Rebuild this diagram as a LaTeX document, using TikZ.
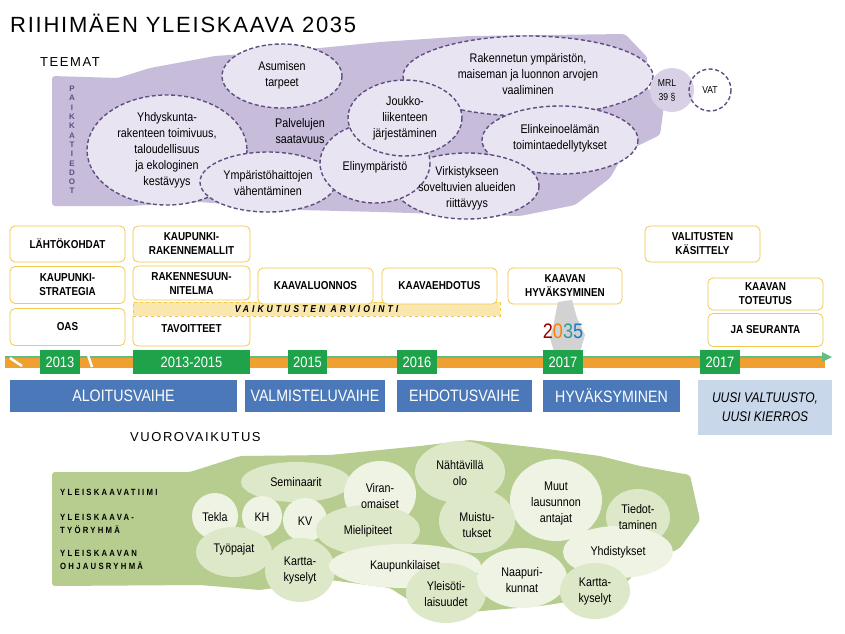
\documentclass[tikz,border=0pt]{standalone}
\usepackage{fontspec}
\setmainfont[FakeStretch=0.86]{Liberation Sans}
\newfontfamily\wide{Liberation Sans}
\begin{document}
\begin{tikzpicture}[x=1pt,y=-1pt,
  every node/.style={font=\fontsize{12.5}{16}\selectfont,align=center,inner sep=0pt},
  ybox/.style={draw=ybord,thick,fill=white,rounded corners=5pt,font=\fontsize{11.5}{14}\selectfont\bfseries},
  year/.style={fill=ygreen,text=white,font=\fontsize{15}{16}\selectfont},
  phase/.style={fill=pblue,text=white,font=\fontsize{16.5}{18}\selectfont},
  lab/.style={font=\fontsize{9}{13}\selectfont\bfseries\addfontfeatures{LetterSpace=25},anchor=west,align=left}]
\definecolor{lavlight}{HTML}{E9E4F1}
\definecolor{lavblob}{HTML}{C7BDDB}
\definecolor{ybord}{HTML}{F2C94C}
\definecolor{ygreen}{HTML}{1FA34A}
\definecolor{pblue}{HTML}{4A78B8}
\definecolor{orng}{HTML}{F0A030}
\definecolor{gblob}{HTML}{B7CD90}
\definecolor{gl}{HTML}{DDE8C8}
\definecolor{gll}{HTML}{EEF3E4}
\definecolor{dpur}{HTML}{5E4F80}
\useasboundingbox (0,0) rectangle (845,633);
\fill[white] (0,0) rectangle (845,633);
% title
\node[anchor=west,font=\wide\fontsize{22}{24}\selectfont\addfontfeatures{LetterSpace=8}] (title) at (10,23) {RIIHIMÄEN YLEISKAAVA 2035};
\node[anchor=west,font=\wide\fontsize{13}{15}\selectfont\addfontfeatures{LetterSpace=12}] (teemat) at (40,62) {TEEMAT};
% purple blob
\fill[lavblob,rounded corners=3pt] (52,76) -- (118,78) -- (150,68) -- (215,56) -- (300,50) -- (380,42) -- (470,36) -- (625,34) -- (648,58) -- (640,85) -- (665,98) -- (660,135) -- (625,152) -- (610,178) -- (575,205) -- (520,216) -- (440,214) -- (380,212) -- (300,210) -- (200,202) -- (130,206) -- (52,206) -- cycle;
\node[font=\wide\fontsize{8}{9.3}\selectfont\bfseries,text=dpur,align=center] (paik) at (72,140) {P\\A\\I\\K\\K\\A\\T\\I\\E\\D\\O\\T};
\tikzset{th/.style={draw=dpur,line width=1.4pt,dash pattern=on 4pt off 2.5pt,fill=lavlight}}
\draw[th] (528,76) ellipse [x radius=125,y radius=40];
\draw[th] (282,76) ellipse [x radius=60,y radius=32];
\draw[th] (167,150) ellipse [x radius=80,y radius=55];
\draw[th] (560,140) ellipse [x radius=78,y radius=34];
\draw[th] (467,186) ellipse [x radius=72,y radius=33];
\draw[th] (268,182) ellipse [x radius=68,y radius=30];
\draw[th] (375,163) ellipse [x radius=55,y radius=40];
\draw[th] (405,118) ellipse [x radius=57,y radius=38];
\node (t1) at (167,150) {Yhdyskunta-\\rakenteen toimivuus,\\taloudellisuus\\ja ekologinen\\kestävyys};
\node (t2) at (282,75) {Asumisen\\tarpeet};
\node (t3) at (300,131) {Palvelujen\\saatavuus};
\node (t4) at (528,74) {Rakennetun ympäristön,\\maiseman ja luonnon arvojen\\vaaliminen};
\node (t5) at (405,118) {Joukko-\\liikenteen\\järjestäminen};
\node (t6) at (560,138) {Elinkeinoelämän\\toimintaedellytykset};
\node (t7) at (268,183) {Ympäristöhaittojen\\vähentäminen};
\node (t8) at (375,167) {Elinympäristö};
\node (t9) at (467,188) {Virkistykseen\\soveltuvien alueiden\\riittävyys};
\fill[lavblob!70!white] (672,90) circle (22);
\node[font=\fontsize{10}{14}\selectfont] (mrl) at (667,90) {MRL\\39 §};
\draw[th,fill=none] (710,90) circle (21);
\node[font=\fontsize{10}{11}\selectfont] (vat) at (710,90) {VAT};
% boxes
\node[ybox,minimum width=115,minimum height=36] (b1) at (67.5,244) {LÄHTÖKOHDAT};
\node[ybox,minimum width=115,minimum height=37] (b2) at (67.5,285) {KAUPUNKI-\\STRATEGIA};
\node[ybox,minimum width=115,minimum height=37] (b3) at (67.5,327) {OAS};
\node[ybox,minimum width=117,minimum height=36] (b4) at (191.5,244) {KAUPUNKI-\\RAKENNEMALLIT};
\node[ybox,minimum width=117,minimum height=34] (b5) at (191.5,283) {RAKENNESUUN-\\NITELMA};
\node[ybox,minimum width=117,minimum height=34] (b6) at (191.5,329) {TAVOITTEET};
\node[draw=ybord,thick,dashed,fill=ybord!45,minimum width=367,minimum height=14,font=\fontsize{10}{11}\selectfont\bfseries\itshape\addfontfeatures{LetterSpace=30}] (va) at (316.5,309) {VAIKUTUSTEN ARVIOINTI};
\node[ybox,minimum width=115,minimum height=36] (b7) at (315.5,286) {KAAVALUONNOS};
\node[ybox,minimum width=115,minimum height=36] (b8) at (439.5,286) {KAAVAEHDOTUS};
\node[ybox,minimum width=114,minimum height=36] (b9) at (565,286) {KAAVAN\\HYVÄKSYMINEN};
\node[ybox,minimum width=115,minimum height=36] (b10) at (702.5,244) {VALITUSTEN\\KÄSITTELY};
\node[ybox,minimum width=115,minimum height=32] (b11) at (765.5,294) {KAAVAN\\TOTEUTUS};
\node[ybox,minimum width=115,minimum height=33] (b12) at (765.5,330) {JA SEURANTA};
% logo
\fill[gray!35] (558,302) -- (572,300) -- (577,318) -- (585,335) -- (580,352) -- (555,355) -- (550,338) -- (554,322) -- cycle;
\node[font=\fontsize{21}{21}\selectfont] (logo) at (563,331) {\textcolor{red!60!black}{2}\textcolor{orange}{0}\textcolor{teal!80}{3}\textcolor{cyan!60!blue}{5}};
% timeline
\fill[orng] (5,356) rectangle (825,368);
\draw[ygreen!70!white,line width=2pt] (5,357) -- (826,357);
\fill[ygreen!70!white] (822,352) -- (832,357) -- (822,362) -- cycle;
\draw[white,line width=2.5pt] (10,358) -- (22,366) (88,355) -- (92,367);
\node[year,minimum width=40,minimum height=24] (y1) at (60,362) {2013};
\node[year,minimum width=117,minimum height=24] (y2) at (191.5,362) {2013-2015};
\node[year,minimum width=39,minimum height=24] (y3) at (307.5,362) {2015};
\node[year,minimum width=40,minimum height=24] (y4) at (417,362) {2016};
\node[year,minimum width=40,minimum height=24] (y5) at (563,362) {2017};
\node[year,minimum width=40,minimum height=24] (y6) at (720,362) {2017};
\node[phase,minimum width=227,minimum height=32] (p1) at (123.5,396) {ALOITUSVAIHE};
\node[phase,minimum width=140,minimum height=32] (p2) at (315,396) {VALMISTELUVAIHE};
\node[phase,minimum width=135,minimum height=32] (p3) at (464.5,396) {EHDOTUSVAIHE};
\node[phase,minimum width=137,minimum height=32] (p4) at (611.5,396) {HYVÄKSYMINEN};
\node[fill=pblue!30!white,minimum width=134,minimum height=55,font=\fontsize{14}{19}\selectfont\itshape] (p5) at (765,407.5) {UUSI VALTUUSTO,\\UUSI KIERROS};
% bottom
\node[anchor=west,font=\wide\fontsize{13}{15}\selectfont\addfontfeatures{LetterSpace=12}] (vuoro) at (130,437) {VUOROVAIKUTUS};
\fill[gblob,rounded corners=3pt] (52,472) -- (190,472) -- (240,456) -- (330,455) -- (420,446) -- (470,440) -- (540,448) -- (600,456) -- (640,466) -- (690,475) -- (700,520) -- (680,548) -- (640,568) -- (615,595) -- (540,606) -- (470,612) -- (415,604) -- (390,588) -- (330,580) -- (260,590) -- (200,585) -- (52,586) -- cycle;
\node[lab] (l1) at (60,492) {YLEISKAAVATIIMI};
\node[lab] (l2) at (60,524) {YLEISKAAVA-\\TYÖRYHMÄ};
\node[lab] (l3) at (60,560) {YLEISKAAVAN\\OHJAUSRYHMÄ};
\fill[gl] (296,482) ellipse [x radius=55,y radius=20];
\fill[gl] (460,472) ellipse [x radius=45,y radius=31];
\fill[gll] (380,494) ellipse [x radius=36,y radius=33];
\fill[gll] (556,500) ellipse [x radius=46,y radius=41];
\fill[gl] (638,517) ellipse [x radius=32,y radius=28];
\fill[gll] (215,516) circle (23);
\fill[gll] (262,516) circle (20);
\fill[gll] (305,520) circle (22);
\fill[gl] (368,530) ellipse [x radius=52,y radius=25];
\fill[gl] (477,521) ellipse [x radius=38,y radius=32];
\fill[gl] (234,552) ellipse [x radius=38,y radius=25];
\fill[gl] (300,570) ellipse [x radius=35,y radius=32];
\fill[gll] (405,566) ellipse [x radius=76,y radius=22];
\fill[gl] (446,593) ellipse [x radius=40,y radius=30];
\fill[gll] (618,552) ellipse [x radius=55,y radius=26];
\fill[gll] (522,578) ellipse [x radius=45,y radius=30];
\fill[gl] (595,591) ellipse [x radius=35,y radius=28];
\node (s1) at (296,482) {Seminaarit};
\node (s2) at (460,473) {Nähtävillä\\olo};
\node (s3) at (380,496) {Viran-\\omaiset};
\node (s4) at (556,503) {Muut\\lausunnon\\antajat};
\node (s5) at (638,517) {Tiedot-\\taminen};
\node (s6) at (215,517) {Tekla};
\node (s7) at (262,517) {KH};
\node (s8) at (305,521) {KV};
\node (s9) at (368,531) {Mielipiteet};
\node (s10) at (477,525) {Muistu-\\tukset};
\node (s11) at (234,549) {Työpajat};
\node (s12) at (300,570) {Kartta-\\kyselyt};
\node (s13) at (405,566) {Kaupunkilaiset};
\node (s14) at (446,594) {Yleisöti-\\laisuudet};
\node (s15) at (618,552) {Yhdistykset};
\node (s16) at (522,580) {Naapuri-\\kunnat};
\node (s17) at (595,591) {Kartta-\\kyselyt};
\end{tikzpicture}
\end{document}
